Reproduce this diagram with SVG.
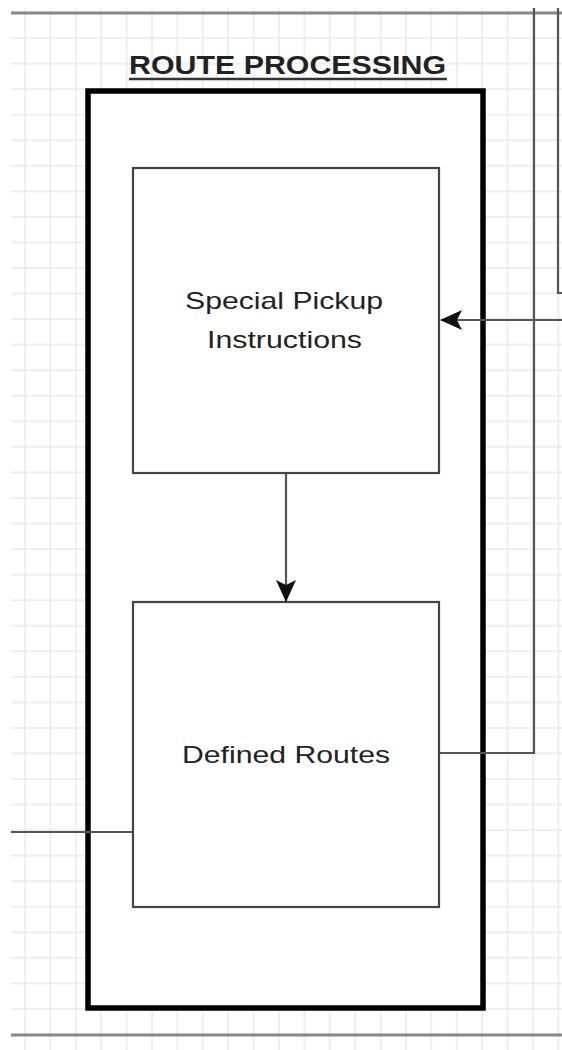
<svg xmlns="http://www.w3.org/2000/svg" width="562" height="1050" viewBox="0 0 562 1050">
  <defs>
    <pattern id="grid" x="-13.2" y="-0.275" width="25.4" height="25.55" patternUnits="userSpaceOnUse">
      <rect x="12.1" y="0" width="1.3" height="25.55" fill="#e6e6e6"/>
      <rect x="0" y="12.15" width="25.4" height="1.3" fill="#e6e6e6"/>
    </pattern>
    <marker id="arrow" viewBox="0 0 22 22" refX="21" refY="11" markerWidth="22" markerHeight="22" markerUnits="userSpaceOnUse" orient="auto">
      <path d="M0 1 L22 11 L0 21 L5 11 Z" fill="#111"/>
    </marker>
    <style>
      .conn { fill: none; stroke: #555; stroke-width: 2.2; }
      .edge { fill: none; stroke: #888; stroke-width: 3; }
      .box { fill: #fff; stroke: #444; stroke-width: 2.2; }
      .outer { fill: #fff; stroke: #000; stroke-width: 5.5; }
      .lbl { font-family: "Liberation Sans", Arial, sans-serif; font-size: 24px; fill: #222; text-anchor: middle; }
      .title { font-family: "Liberation Sans", Arial, sans-serif; font-size: 26px; font-weight: bold; fill: #222; text-anchor: middle; }
    </style>
  </defs>
  <rect x="0" y="0" width="562" height="1050" fill="#fff"/>
  <rect x="11" y="8" width="551" height="1042" fill="url(#grid)"/>

  <g id="route-processing">
    <rect class="outer" x="88" y="91" width="395" height="917"/>
    <text class="title" x="287.5" y="74" textLength="317" lengthAdjust="spacingAndGlyphs">ROUTE PROCESSING</text>
    <line x1="129" y1="79" x2="447" y2="79" stroke="#333" stroke-width="2.5"/>
  </g>

  <g id="special-pickup-instructions">
    <rect class="box" x="133" y="168" width="306" height="305"/>
    <text class="lbl" x="284" y="309" textLength="198" lengthAdjust="spacingAndGlyphs">Special Pickup</text>
    <text class="lbl" x="284.5" y="348" textLength="155" lengthAdjust="spacingAndGlyphs">Instructions</text>
  </g>

  <g id="defined-routes">
    <rect class="box" x="133" y="602" width="306" height="305"/>
    <text class="lbl" x="286" y="763" textLength="208" lengthAdjust="spacingAndGlyphs">Defined Routes</text>
  </g>

  <g id="connectors">
    <line class="edge" x1="11" y1="13" x2="562" y2="13"/>
    <line class="edge" x1="11" y1="1035" x2="562" y2="1035"/>
    <polyline class="conn" points="558,8 558,293 562,293"/>
    <polyline class="conn" points="534,8 534,753 440,753"/>
    <line class="conn" x1="562" y1="320" x2="441" y2="320" marker-end="url(#arrow)"/>
    <line class="conn" x1="286" y1="474" x2="286" y2="601" marker-end="url(#arrow)"/>
    <line class="conn" x1="11" y1="832" x2="132" y2="832"/>
  </g>
</svg>
